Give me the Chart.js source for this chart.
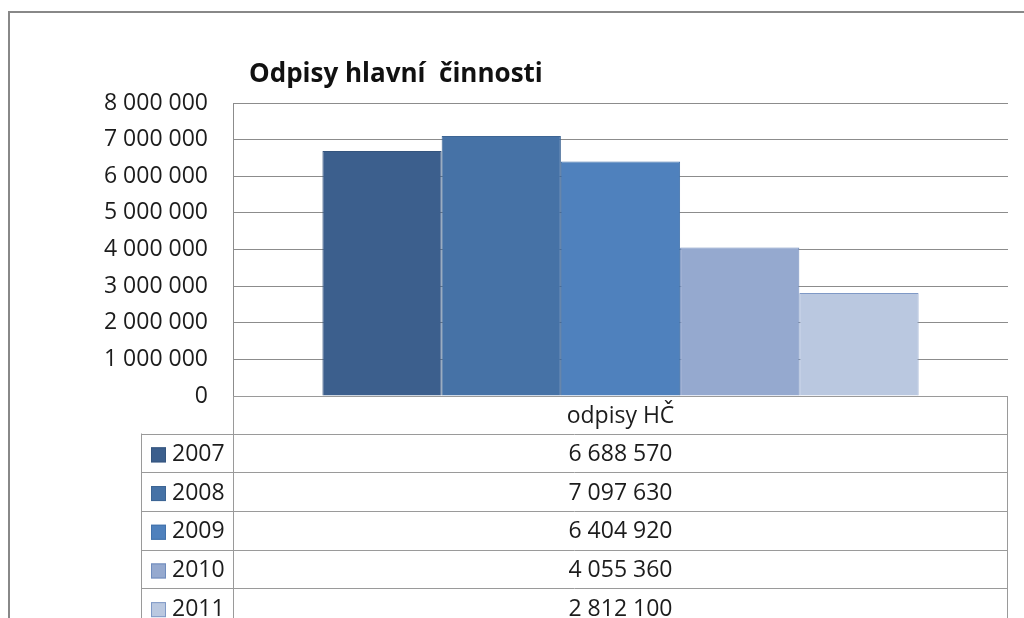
<!DOCTYPE html>
<html>
<head>
<meta charset="utf-8">
<script src="https://cdn.jsdelivr.net/npm/chart.js@4"></script>
<style>
  body { margin: 0; background: #fff; }
  canvas { display: block; }
</style>
</head>
<body>
<canvas id="chart" width="1024" height="618"></canvas>
<script>
// data
var categories = ["odpisy HČ"];
var years = ["2007", "2008", "2009", "2010", "2011"];
var values = [6688570, 7097630, 6404920, 4055360, 2812100];
var yMin = 0, yMax = 8000000, yStep = 1000000;

var fills = ["#3c5f8d", "#4672a6", "#4f81bd", "#95a9cf", "#bac8e0"];
var borders = ["#35557e", "#3d6594", "#4272ab", "#6f8cbd", "#7f99c6"];

var FONT = "'Open Sans', Lato, sans-serif";
var TEXT = "#1c1c1c";
var GRID = "#8c8c8c";

function fmt(n) {
    return String(n).replace(/\B(?=(\d{3})+(?!\d))/g, " ");
}

var datasets = years.map(function (y, i) {
    return {
        label: y,
        data: [values[i]],
        backgroundColor: fills[i],
        borderColor: borders[i],
        borderWidth: 1,
        categoryPercentage: 5 / 6.5,
        barPercentage: 1
    };
});

//Draws the frame, the title and the data table under the plot.
var tablePlugin = {
    id: "dataTable",
    beforeDraw: function (chart) {
        var ctx = chart.ctx;
        ctx.save();
        ctx.fillStyle = "#fff";
        ctx.fillRect(0, 0, chart.width, chart.height);
        ctx.strokeStyle = "#888";
        ctx.lineWidth = 2;
        ctx.strokeRect(9, 12, chart.width + 20, chart.height + 20);
        ctx.restore();
    },
    afterDraw: function (chart) {
        var ctx = chart.ctx;
        var area = chart.chartArea;
        var xScale = chart.scales.x;
        var left = area.left, right = area.right - 1, top = area.bottom;
        var legendLeft = left - 92;
        var headH = 37.5, rowH = 38.7;

        ctx.save();
        // title
        ctx.fillStyle = "#111";
        ctx.font = "bold 26px " + FONT;
        ctx.textAlign = "left";
        ctx.textBaseline = "middle";
        ctx.fillText("Odpisy hlavní  činnosti", left + 16, 75);

        // table lines
        ctx.strokeStyle = "#9a9a9a";
        ctx.lineWidth = 1;
        ctx.beginPath();
        ctx.moveTo(left + 0.5, top);
        ctx.lineTo(left + 0.5, chart.height);
        ctx.moveTo(right + 0.5, top);
        ctx.lineTo(right + 0.5, chart.height);
        ctx.moveTo(legendLeft + 0.5, top + headH);
        ctx.lineTo(legendLeft + 0.5, chart.height);
        ctx.moveTo(left, top + 0.5);
        ctx.lineTo(right, top + 0.5);
        for (var r = 0; r <= years.length; r++) {
            var ly = Math.round(top + headH + r * rowH) + 0.5;
            ctx.moveTo(legendLeft, ly);
            ctx.lineTo(right + 1, ly);
        }
        ctx.stroke();

        // header and values
        var cx = xScale.getPixelForValue(0);
        ctx.fillStyle = TEXT;
        ctx.font = "23px " + FONT;
        ctx.textAlign = "center";
        ctx.fillText(categories[0], cx, top + headH / 2 + 2);
        years.forEach(function (y, i) {
            var cy = top + headH + i * rowH + rowH / 2 + 1.5;
            ctx.textAlign = "center";
            ctx.fillStyle = TEXT;
            ctx.font = "23px " + FONT;
            ctx.fillText(fmt(values[i]), cx, cy);

            // legend key
            ctx.fillStyle = fills[i];
            ctx.fillRect(legendLeft + 10, cy - 7, 15, 15);
            ctx.strokeStyle = borders[i];
            ctx.strokeRect(legendLeft + 10.5, cy - 6.5, 14, 14);
            ctx.fillStyle = TEXT;
            ctx.textAlign = "left";
            ctx.font = "23px " + FONT;
            ctx.fillText(y, legendLeft + 31, cy);
        });
        ctx.restore();
    }
};

new Chart(document.getElementById("chart").getContext("2d"), {
    type: "bar",
    data: { labels: categories, datasets: datasets },
    options: {
        responsive: false,
        animation: false,
        devicePixelRatio: 1,
        layout: { padding: { top: 103, right: 16, bottom: 222, left: 0 } },
        plugins: {
            legend: { display: false },
            title: { display: false },
            tooltip: { enabled: false }
        },
        scales: {
            x: { display: false },
            y: {
                min: yMin,
                max: yMax,
                afterFit: function (scale) { scale.width = 233; },
                ticks: {
                    stepSize: yStep,
                    padding: 25,
                    color: TEXT,
                    font: { family: FONT, size: 23 },
                    callback: function (v) { return fmt(v); }
                },
                grid: { color: GRID, drawTicks: false },
                border: { color: GRID }
            }
        }
    },
    plugins: [tablePlugin]
});
</script>
</body>
</html>
